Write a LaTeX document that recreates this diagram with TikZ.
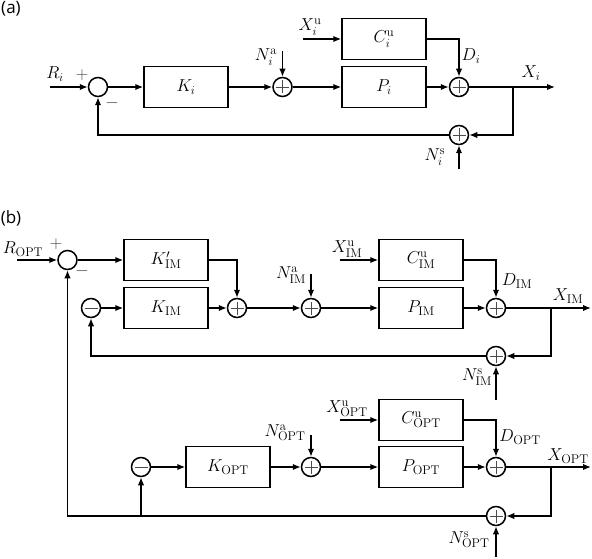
\documentclass[tikz,border=0pt]{standalone}
\usepackage{fontspec}
\newfontfamily\labfont{Open Sans}
\usetikzlibrary{arrows.meta}
\begin{document}
\begin{tikzpicture}[x=1pt,y=-1pt,
  blk/.style={draw, line width=1.5pt, minimum width=84pt, minimum height=41pt, inner sep=0pt, font=\fontsize{18}{20}\selectfont},
  sumc/.style={circle, draw, line width=1.5pt, minimum size=19pt, inner sep=0pt},
  sump/.style={sumc, path picture={\draw[line width=0.6pt, black!70]
      ([xshift=-6.5pt]path picture bounding box.center) -- ([xshift=6.5pt]path picture bounding box.center)
      ([yshift=-6.5pt]path picture bounding box.center) -- ([yshift=6.5pt]path picture bounding box.center);}},
  summ/.style={sumc, path picture={\draw[line width=0.6pt, black!70]
      ([xshift=-6.5pt]path picture bounding box.center) -- ([xshift=6.5pt]path picture bounding box.center);}},
  arr/.style={-{Latex[length=8pt,width=6.5pt]}, line width=1.5pt},
  lbl/.style={inner sep=0pt, font=\fontsize{18}{20}\selectfont},
  sgn/.style={inner sep=0pt, font=\fontsize{16}{18}\selectfont, text=black!75},
  tag/.style={inner sep=0pt, font=\labfont\fontsize{17}{20}\selectfont}]
\useasboundingbox (0,0) rectangle (592,559);

% ---------------- (a) ----------------
\node[tag] (ta) at (11,9) {(a)};
\node[sumc] (s1) at (98,87) {};
\node[blk] (K) at (186,87) {$K_i$};
\node[sump] (na) at (282.5,87) {};
\node[blk] (C) at (384,39) {$C_i^{\mathrm{u}}$};
\node[blk] (P) at (384,87) {$P_i$};
\node[sump] (sd) at (459,87) {};
\node[sump] (ns) at (459,135) {};
\coordinate (rin) at (50,87);
\coordinate (naIn) at (282.5,51);
\coordinate (xuIn) at (303,39);
\coordinate (xout) at (555,87);
\coordinate (br) at (513,87);
\coordinate (nsIn) at (459,169);

\node[lbl] (lR) at (55,74) {$R_i$};
\node[sgn] (lp1) at (82,75) {$+$};
\node[sgn] (lm1) at (112,103) {$-$};
\node[lbl] (lNa) at (266,57) {$N_i^{\mathrm{a}}$};
\node[lbl] (lXu) at (310,27) {$X_i^{\mathrm{u}}$};
\node[lbl] (lD) at (471,56) {$D_i$};
\node[lbl] (lX) at (531,73) {$X_i$};
\node[lbl] (lNs) at (435,157) {$N_i^{\mathrm{s}}$};

\draw[arr] (rin) -- (s1);
\draw[arr] (s1) -- (K);
\draw[arr] (K) -- (na);
\draw[arr] (naIn) -- (na);
\draw[arr] (na) -- (P);
\draw[arr] (xuIn) -- (C);
\draw[arr] (C.east) -| (sd);
\draw[arr] (P) -- (sd);
\draw[arr] (sd) -- (xout);
\draw[arr] (br) |- (ns);
\draw[arr] (nsIn) -- (ns);
\draw[arr] (ns) -| (s1);

% ---------------- (b) ----------------
\node[tag] (tb) at (11,218) {(b)};
\node[sumc] (s2) at (67.5,260) {};
\node[blk] (Kp) at (166,260) {$K'_{\mathrm{IM}}$};
\node[blk] (Ki) at (166,308) {$K_{\mathrm{IM}}$};
\node[summ] (m1) at (91,308) {};
\node[sump] (c1) at (237,308) {};
\node[sump] (na2) at (311,308) {};
\node[blk] (Ci) at (421,260) {$C_{\mathrm{IM}}^{\mathrm{u}}$};
\node[blk] (Pi) at (421,308) {$P_{\mathrm{IM}}$};
\node[sump] (d2) at (496,308) {};
\node[sump] (ns2) at (496,356) {};
\coordinate (rin2) at (17,260);
\coordinate (na2In) at (311,274);
\coordinate (xu2In) at (340,260);
\coordinate (x2out) at (591,308);
\coordinate (br2) at (551,308);
\coordinate (ns2In) at (496,400);

\node[lbl] (lR2) at (23,249) {$R_{\mathrm{OPT}}$};
\node[sgn] (lp2) at (56,244) {$+$};
\node[sgn] (lm2) at (82,271) {$-$};
\node[lbl] (lNa2) at (291,275) {$N_{\mathrm{IM}}^{\mathrm{a}}$};
\node[lbl] (lXu2) at (347,249) {$X_{\mathrm{IM}}^{\mathrm{u}}$};
\node[lbl] (lD2) at (517,281) {$D_{\mathrm{IM}}$};
\node[lbl] (lX2) at (568,296) {$X_{\mathrm{IM}}$};
\node[lbl] (lNs2) at (477,377) {$N_{\mathrm{IM}}^{\mathrm{s}}$};

\draw[arr] (rin2) -- (s2);
\draw[arr] (s2) -- (Kp);
\draw[arr] (Kp.east) -| (c1);
\draw[arr] (m1) -- (Ki);
\draw[arr] (Ki) -- (c1);
\draw[arr] (c1) -- (na2);
\draw[arr] (na2In) -- (na2);
\draw[arr] (na2) -- (Pi);
\draw[arr] (xu2In) -- (Ci);
\draw[arr] (Ci.east) -| (d2);
\draw[arr] (Pi) -- (d2);
\draw[arr] (d2) -- (x2out);
\draw[arr] (br2) |- (ns2);
\draw[arr] (ns2In) -- (ns2);
\draw[arr] (ns2) -| (m1);

% OPT loop
\node[blk] (Co) at (421,420) {$C_{\mathrm{OPT}}^{\mathrm{u}}$};
\node[blk] (Po) at (421,467) {$P_{\mathrm{OPT}}$};
\node[blk] (Ko) at (228,467) {$K_{\mathrm{OPT}}$};
\node[summ] (m2) at (141,467) {};
\node[sump] (na3) at (311,467) {};
\node[sump] (d3) at (496,467) {};
\node[sump] (ns3) at (496,516) {};
\coordinate (na3In) at (311,435);
\coordinate (xu3In) at (340,420);
\coordinate (x3out) at (591,467);
\coordinate (br3) at (551,467);
\coordinate (ns3In) at (496,557);
\coordinate (j3) at (141,516);

\node[lbl] (lNa3) at (285,433) {$N_{\mathrm{OPT}}^{\mathrm{a}}$};
\node[lbl] (lXu3) at (347,409) {$X_{\mathrm{OPT}}^{\mathrm{u}}$};
\node[lbl] (lD3) at (520,437) {$D_{\mathrm{OPT}}$};
\node[lbl] (lX3) at (568,456) {$X_{\mathrm{OPT}}$};
\node[lbl] (lNs3) at (469,540) {$N_{\mathrm{OPT}}^{\mathrm{s}}$};

\draw[arr] (m2) -- (Ko);
\draw[arr] (Ko) -- (na3);
\draw[arr] (na3In) -- (na3);
\draw[arr] (na3) -- (Po);
\draw[arr] (xu3In) -- (Co);
\draw[arr] (Co.east) -| (d3);
\draw[arr] (Po) -- (d3);
\draw[arr] (d3) -- (x3out);
\draw[arr] (br3) |- (ns3);
\draw[arr] (ns3In) -- (ns3);
\draw[arr] (ns3) -| (s2);
\draw[arr] (j3) -- (m2);
\end{tikzpicture}
\end{document}
